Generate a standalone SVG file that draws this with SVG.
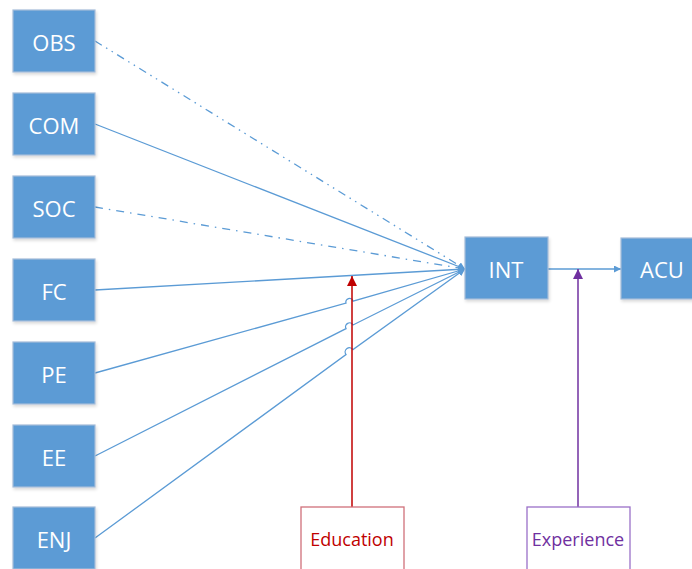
<svg xmlns="http://www.w3.org/2000/svg" width="692" height="569" viewBox="0 0 692 569">
<style>
.box{fill:#5B9BD5;stroke:#A5BCD9;stroke-width:1.2}
.lbl{font-family:"Open Sans","Liberation Sans",sans-serif;font-size:22px;fill:#fff;text-anchor:middle;dominant-baseline:central}
.sub{font-family:"Open Sans","Liberation Sans",sans-serif;font-size:18px;text-anchor:middle;dominant-baseline:central}
.e{fill:none;stroke:#5B9BD5;stroke-width:1.3}
</style>
<defs>
<marker id="ab" viewBox="0 0 10 10" refX="10" refY="5" markerWidth="7" markerHeight="7" markerUnits="userSpaceOnUse" orient="auto"><path d="M0,0L10,5L0,10z" fill="#5B9BD5"/></marker>
<marker id="ar" viewBox="0 0 10 10" refX="10" refY="5" markerWidth="10" markerHeight="10" markerUnits="userSpaceOnUse" orient="auto"><path d="M0,0L10,5L0,10z" fill="#C00000"/></marker>
<marker id="ap" viewBox="0 0 10 10" refX="10" refY="5" markerWidth="10" markerHeight="10" markerUnits="userSpaceOnUse" orient="auto"><path d="M0,0L10,5L0,10z" fill="#7030A0"/></marker>
<filter id="sh" x="-10%" y="-10%" width="130%" height="130%"><feDropShadow dx="1" dy="2" stdDeviation="1.5" flood-color="#000" flood-opacity="0.15"/></filter>
</defs>
<g id="connectors">
<path class="e" d="M95,41L465,269" stroke-dasharray="8,5,1.5,5,1.5,5" marker-end="url(#ab)"/>
<path class="e" d="M95,124L465,269" marker-end="url(#ab)"/>
<path class="e" d="M95,207L465,269" stroke-dasharray="8,6,1.5,6" marker-end="url(#ab)"/>
<path class="e" d="M95,290L465,269" marker-end="url(#ab)"/>
<path class="e" d="M95,373L346,303.1A3.5,3.5 0 0 1 353,301.1L465,269" marker-end="url(#ab)"/>
<path class="e" d="M95,456L346,328.6A3.5,3.5 0 0 1 353,325.0L465,269" marker-end="url(#ab)"/>
<path class="e" d="M95,538L346,354.6A3.5,3.5 0 0 1 353,349.5L465,269" marker-end="url(#ab)"/>
<path class="e" d="M548,269L621,269" marker-end="url(#ab)"/>
<path d="M352,507L352,276" stroke="#C00000" stroke-width="1.5" fill="none" marker-end="url(#ar)"/>
<path d="M578,507L578,269" stroke="#7030A0" stroke-width="1.5" fill="none" marker-end="url(#ap)"/>
</g>
<g id="OBS"><rect class="box" x="13" y="10" width="82" height="62" filter="url(#sh)"/><text class="lbl" x="54" y="42">OBS</text></g>
<g id="COM"><rect class="box" x="13" y="93" width="82" height="62" filter="url(#sh)"/><text class="lbl" x="54" y="125">COM</text></g>
<g id="SOC"><rect class="box" x="13" y="176" width="82" height="62" filter="url(#sh)"/><text class="lbl" x="54" y="208">SOC</text></g>
<g id="FC"><rect class="box" x="13" y="259" width="82" height="62" filter="url(#sh)"/><text class="lbl" x="54" y="291">FC</text></g>
<g id="PE"><rect class="box" x="13" y="342" width="82" height="62" filter="url(#sh)"/><text class="lbl" x="54" y="374">PE</text></g>
<g id="EE"><rect class="box" x="13" y="425" width="82" height="62" filter="url(#sh)"/><text class="lbl" x="54" y="457">EE</text></g>
<g id="ENJ"><rect class="box" x="13" y="507" width="82" height="62" filter="url(#sh)"/><text class="lbl" x="54" y="539">ENJ</text></g>
<g id="INT"><rect class="box" x="465" y="237" width="83" height="62" filter="url(#sh)"/><text class="lbl" x="506" y="269">INT</text></g>
<g id="ACU"><rect class="box" x="621" y="238" width="83" height="61" filter="url(#sh)"/><text class="lbl" x="662" y="269">ACU</text></g>
<g id="Education"><rect x="301" y="507" width="103" height="63" fill="#fff" stroke="#D0707A" stroke-width="1.3"/><text class="sub" x="352" y="539" fill="#C00000">Education</text></g>
<g id="Experience"><rect x="527" y="507" width="103" height="63" fill="#fff" stroke="#9A70C8" stroke-width="1.3"/><text class="sub" x="578" y="539" fill="#7030A0">Experience</text></g>
</svg>
